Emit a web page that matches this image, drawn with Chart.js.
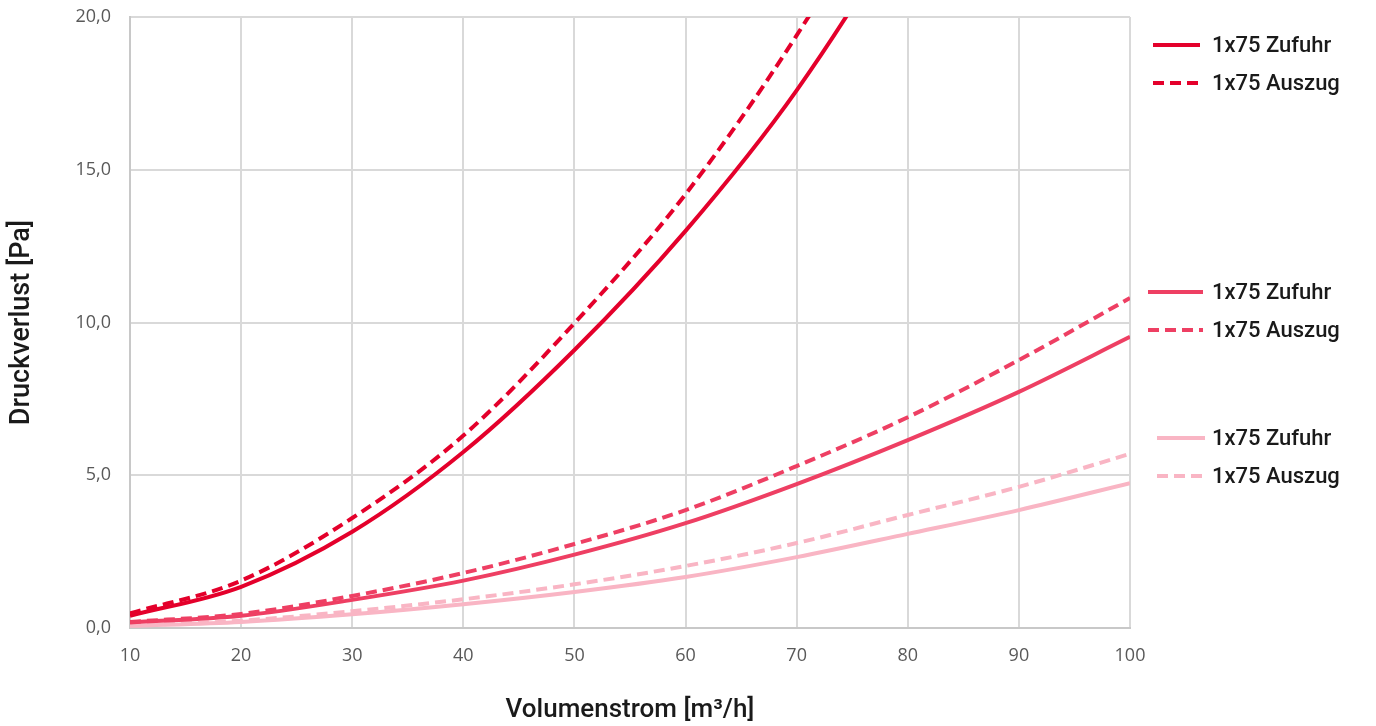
<!DOCTYPE html>
<html lang="de">
<head>
  <meta charset="UTF-8">
  <title>Druckverlust</title>
  <script src="https://cdn.jsdelivr.net/npm/chart.js"></script>
  <style>
    html, body { margin: 0; padding: 0; background: #fff; }
    #wrap { width: 1376px; height: 726px; position: relative; }
  </style>
</head>
<body>
  <div id="wrap"><canvas id="grafica" width="1376" height="726"></canvas></div>

  <script>
    // Volumenstrom [m3/h]
    const volumenstrom = [10, 20, 30, 40, 50, 60, 70, 80, 90, 100];

    // Druckverlust [Pa]
    const zufuhr1 = [0.40, 1.35, 3.15, 5.76, 9.10, 13.0, 17.6, 23.3, 30.0, 37.5];
    const auszug1 = [0.48, 1.55, 3.60, 6.30, 9.98, 14.2, 19.4, 25.5, 33.0, 41.0];
    const zufuhr2 = [0.18, 0.40, 0.92, 1.55, 2.40, 3.43, 4.71, 6.15, 7.73, 9.53];
    const auszug2 = [0.20, 0.46, 1.05, 1.80, 2.75, 3.86, 5.30, 6.90, 8.77, 10.8];
    const zufuhr3 = [0.07, 0.20, 0.45, 0.78, 1.18, 1.67, 2.32, 3.08, 3.86, 4.74];
    const auszug3 = [0.08, 0.24, 0.55, 0.94, 1.43, 2.03, 2.78, 3.70, 4.62, 5.70];

    const yTicks = [0, 5, 10, 15, 20];
    const xTicks = [10, 20, 30, 40, 50, 60, 70, 80, 90, 100];
    const legendLabels = ['1x75 Zufuhr', '1x75 Auszug'];

    const farben = ['#e4002b', '#ee3f63', '#f9b5c4'];

    function serie(label, werte, farbe, gestrichelt) {
      return {
        label: label,
        data: volumenstrom.map((x, i) => ({ x: x, y: werte[i] })),
        borderColor: farbe,
        borderWidth: 4,
        borderDash: gestrichelt ? [11, 6] : [],
        pointRadius: 0,
        cubicInterpolationMode: 'monotone',
        fill: false
      };
    }

    const datasets = [
      serie(legendLabels[0], zufuhr1, farben[0], false),
      serie(legendLabels[1], auszug1, farben[0], true),
      serie(legendLabels[0], zufuhr2, farben[1], false),
      serie(legendLabels[1], auszug2, farben[1], true),
      serie(legendLabels[0], zufuhr3, farben[2], false),
      serie(legendLabels[1], auszug3, farben[2], true)
    ];

    // Legende in drei Gruppen rechts neben dem Diagramm
    const legendeGruppen = [
      { y: 45, x1: 1153, x2: 1200 },
      { y: 292, x1: 1148, x2: 1203 },
      { y: 438, x1: 1157, x2: 1205 }
    ];

    const legendePlugin = {
      id: 'legendeGruppen',
      afterDraw(chart) {
        const ctx = chart.ctx;
        ctx.save();
        legendeGruppen.forEach((g, gi) => {
          for (let k = 0; k < 2; k++) {
            const ds = chart.data.datasets[gi * 2 + k];
            const y = g.y + k * 38;
            ctx.strokeStyle = ds.borderColor;
            ctx.lineWidth = 4;
            ctx.setLineDash(ds.borderDash);
            ctx.beginPath();
            ctx.moveTo(g.x1, y);
            ctx.lineTo(g.x2, y);
            ctx.stroke();
            ctx.setLineDash([]);
            ctx.fillStyle = '#1a1a1a';
            ctx.font = '500 22px Roboto';
            ctx.textBaseline = 'middle';
            ctx.fillText(ds.label, 1212, y + 1);
          }
        });
        ctx.restore();
      }
    };

    const ctx = document.getElementById('grafica').getContext('2d');
    new Chart(ctx, {
      type: 'line',
      data: { datasets: datasets },
      plugins: [legendePlugin],
      options: {
        responsive: false,
        animation: false,
        layout: { padding: { top: 17, right: 246, left: 6, bottom: 0 } },
        plugins: {
          legend: { display: false },
          tooltip: { enabled: false }
        },
        scales: {
          x: {
            type: 'linear',
            min: 10,
            max: 100,
            afterBuildTicks: s => { s.ticks = xTicks.map(v => ({ value: v })); },
            afterFit: s => { s.height = 98; s.paddingLeft = 0; s.paddingRight = 0; },
            grid: { color: '#d9d9d9', lineWidth: 2, drawTicks: false },
            border: { color: '#c8c8c8', width: 2 },
            ticks: {
              padding: 17,
              color: '#595959',
              font: { family: 'Open Sans', size: 18 }
            },
            title: {
              display: true,
              text: 'Volumenstrom [m³/h]',
              color: '#1a1a1a',
              font: { family: 'Roboto', size: 26, weight: '500' },
              padding: { top: 18, bottom: 0 }
            }
          },
          y: {
            min: 0,
            max: 20,
            afterBuildTicks: s => { s.ticks = yTicks.map(v => ({ value: v })); },
            afterFit: s => { s.width = 124; s.paddingTop = 0; s.paddingBottom = 0; },
            grid: { color: '#d9d9d9', lineWidth: 2, drawTicks: false },
            border: { color: '#c8c8c8', width: 2 },
            ticks: {
              padding: 19,
              color: '#595959',
              font: { family: 'Open Sans', size: 18 },
              callback: v => v.toFixed(1).replace('.', ',')
            },
            title: {
              display: true,
              text: 'Druckverlust [Pa]',
              color: '#1a1a1a',
              font: { family: 'Roboto', size: 27, weight: '500' },
              padding: { top: 0, bottom: 0 }
            }
          }
        }
      }
    });
  </script>
</body>
</html>
